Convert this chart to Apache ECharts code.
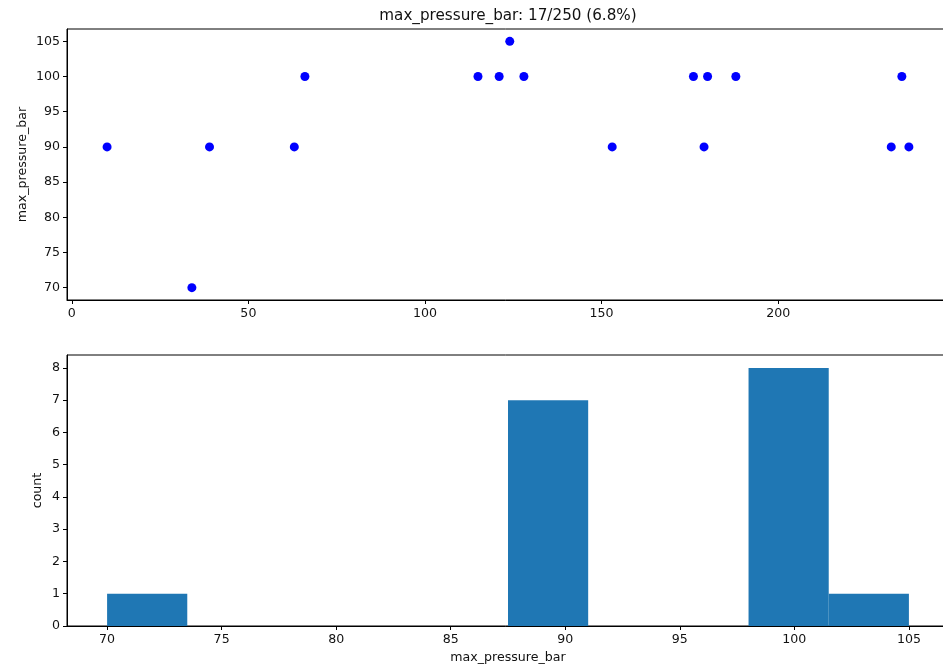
<!DOCTYPE html>
<html>
<head>
<meta charset="utf-8">
<script src="https://cdn.jsdelivr.net/npm/echarts@6/dist/echarts.min.js"></script>
<style>
html,body{margin:0;padding:0;background:#fff;overflow:hidden;}
#chart{width:943px;height:668px;}
</style>
</head>
<body>
<div id="chart"></div>
<script>
// Top scatter: row index vs max_pressure_bar
const rowIndex = [10, 34, 39, 63, 66, 115, 121, 124, 128, 153, 176, 179, 180, 188, 232, 235, 237];
const pressure = [90, 70, 90, 90, 100, 100, 100, 105, 100, 90, 100, 90, 100, 100, 90, 100, 90];

// Histogram bins (10 bins from 70 to 105)
const binStart = [70, 73.5, 77, 80.5, 84, 87.5, 91, 94.5, 98, 101.5];
const binEnd   = [73.5, 77, 80.5, 84, 87.5, 91, 94.5, 98, 101.5, 105];
const counts   = [1, 0, 0, 0, 0, 7, 0, 0, 8, 1];

// Tick labels
const topXTicks = [0, 50, 100, 150, 200];
const topYTicks = [70, 75, 80, 85, 90, 95, 100, 105];
const botXTicks = [70, 75, 80, 85, 90, 95, 100, 105];
const botYTicks = [0, 1, 2, 3, 4, 5, 6, 7, 8];

const titleText = 'max_pressure_bar: 17/250 (6.8%)';

const FONT = 'DejaVu Sans';
const TXT = '#111';
const tickFS = 12.6;

function axisCommon(ticks) {
  return {
    axisLine: { show: true, onZero: false, lineStyle: { color: '#000', width: 1 } },
    axisTick: { show: true, inside: false, length: 4, customValues: ticks, lineStyle: { color: '#000', width: 1 } },
    axisLabel: { show: true, customValues: ticks, color: TXT, fontFamily: FONT, fontSize: tickFS, margin: 7 },
    splitLine: { show: false },
    nameMoveOverlap: false,
    nameTextStyle: { color: TXT, fontFamily: FONT, fontSize: tickFS }
  };
}

const chart = echarts.init(document.getElementById('chart'), null, { renderer: 'canvas' });

const option = {
  backgroundColor: '#fff',
  animation: false,
  title: {
    text: titleText,
    left: 508, top: 9, textAlign: 'center',
    padding: 0,
    textStyle: { color: TXT, fontFamily: FONT, fontSize: 15.2, fontWeight: 'normal' }
  },
  grid: [
    { left: 67, top: 29, right: -6, height: 271, show: true, borderColor: '#000', borderWidth: 1, containLabel: false, outerBoundsMode: 'none' },
    { left: 67, top: 355, right: -6, height: 271, show: true, borderColor: '#000', borderWidth: 1, containLabel: false, outerBoundsMode: 'none' }
  ],
  xAxis: [
    Object.assign(axisCommon(topXTicks), {
      type: 'value', gridIndex: 0, min: -1.35, max: 248.35
    }),
    Object.assign(axisCommon(botXTicks), {
      type: 'value', gridIndex: 1, min: 68.25, max: 106.75,
      name: 'max_pressure_bar', nameLocation: 'middle', nameGap: 25
    })
  ],
  yAxis: [
    Object.assign(axisCommon(topYTicks), {
      type: 'value', gridIndex: 0, min: 68.25, max: 106.75,
      name: 'max_pressure_bar', nameLocation: 'middle', nameGap: 38
    }),
    Object.assign(axisCommon(botYTicks), {
      type: 'value', gridIndex: 1, min: 0, max: 8.4,
      name: 'count', nameLocation: 'middle', nameGap: 23
    })
  ],
  series: [
    {
      type: 'scatter',
      xAxisIndex: 0, yAxisIndex: 0,
      symbol: 'circle', symbolSize: 9,
      itemStyle: { color: '#0000ff', opacity: 1 },
      data: rowIndex.map((x, i) => [x, pressure[i]])
    },
    {
      type: 'custom',
      xAxisIndex: 1, yAxisIndex: 1,
      data: binStart.map((s, i) => [s, binEnd[i], counts[i]]),
      encode: { x: [0, 1], y: 2 },
      renderItem: function (params, api) {
        const c = api.value(2);
        if (!c) return null;
        const p0 = api.coord([api.value(0), 0]);
        const p1 = api.coord([api.value(1), c]);
        return {
          type: 'rect',
          shape: { x: p0[0], y: p1[1], width: p1[0] - p0[0], height: p0[1] - p1[1] },
          style: { fill: '#1f77b4' }
        };
      }
    }
  ]
};

chart.setOption(option);
</script>
</body>
</html>
